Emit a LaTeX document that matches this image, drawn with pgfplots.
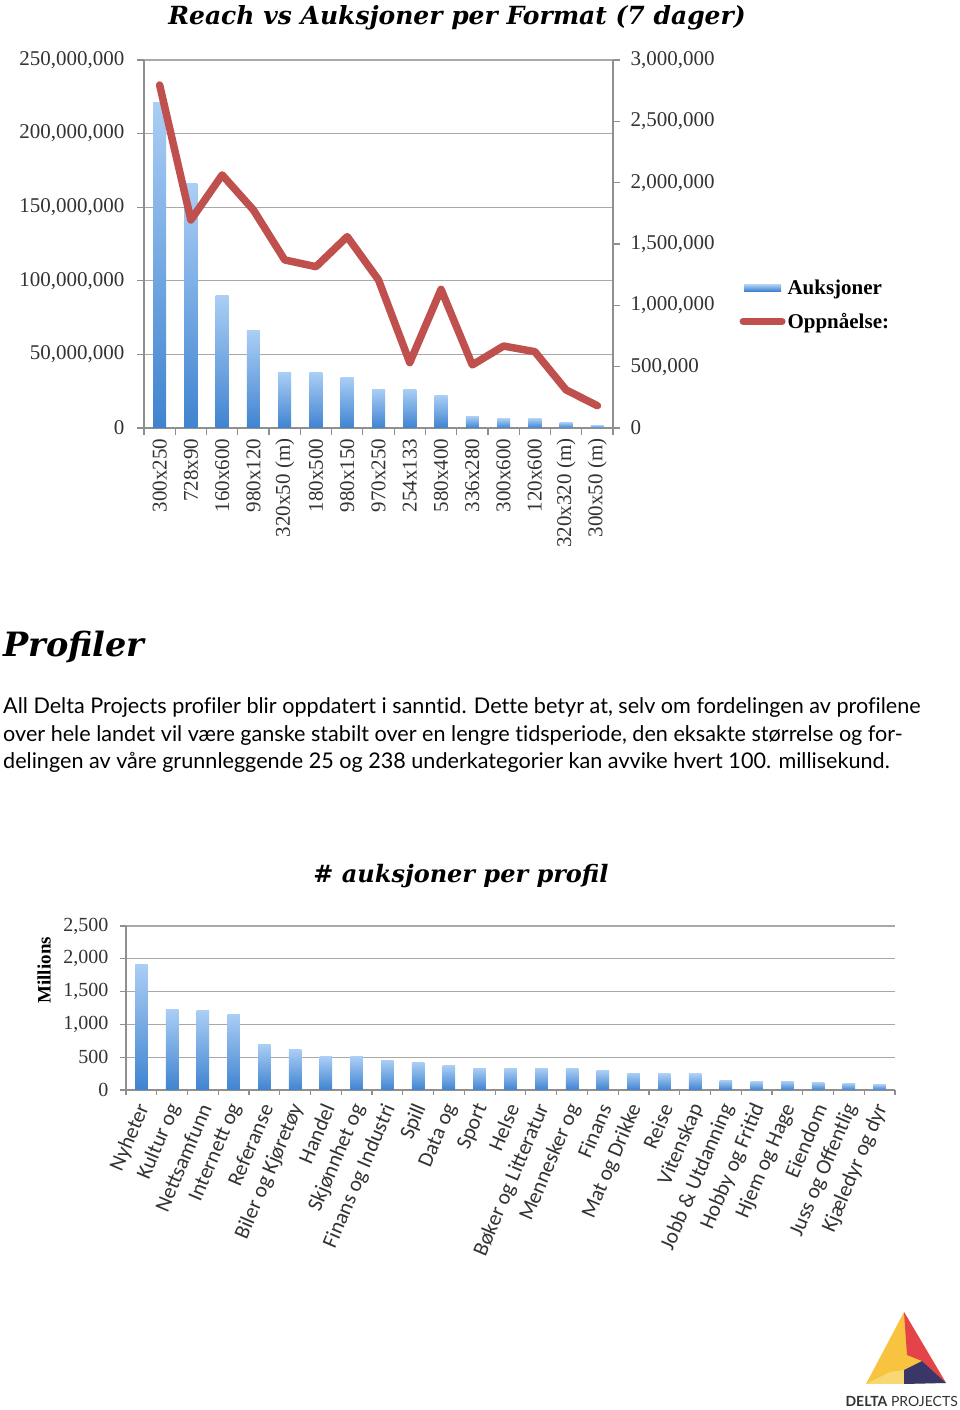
\documentclass[border=0pt]{standalone}
\usepackage{fontspec}
\setmainfont{Liberation Serif}
\newfontfamily\titlefont{DejaVu Serif}
\newfontfamily\catfont{Carlito}
\newfontfamily\parafont[Ligatures=NoCommon]{Lato}
\usepackage{pgfplots}
\pgfplotsset{compat=1.18}
\definecolor{barTop}{HTML}{AACEF5}
\definecolor{barBot}{HTML}{3F83D0}
\definecolor{lineRed}{HTML}{C0504D}
\definecolor{gridgray}{HTML}{A8A8A8}
\definecolor{axisgray}{HTML}{8F8F8F}
\definecolor{labgray}{HTML}{333333}
\definecolor{logoYel}{HTML}{F8C440}
\definecolor{logoLYel}{HTML}{F8D774}
\definecolor{logoRed}{HTML}{E4434A}
\definecolor{logoNavy}{HTML}{3B3668}
\newcommand{\fs}[2]{\fontsize{#1}{#2}\selectfont}
\pgfplotsset{
  commonstyle/.style={
    scale only axis,
    axis line style={axisgray, line width=1.2pt},
    tick align=outside,
    major tick length=7pt, minor tick length=7pt,
    tick style={axisgray, line width=1.2pt},
    grid style={gridgray, line width=1.2pt},
    scaled y ticks=false,
    yticklabel style={/pgf/number format/fixed, /pgf/number format/precision=0,
      /pgf/number format/1000 sep={,}, /pgf/number format/assume math mode=true, text=labgray},
  },
  barA/.style={ybar, bar width=13pt, draw=none, top color=barTop, bottom color=barBot, forget plot},
  barB/.style={ybar, bar width=12.5pt, draw=none, top color=barTop, bottom color=barBot, forget plot},
}
\begin{document}
\begin{tikzpicture}[x=1pt,y=1pt]
\path[use as bounding box, fill=white] (0,0) rectangle (960,1410);

% ---------- Chart 1 title
\node[anchor=base, inner sep=0, font=\titlefont\bfseries\itshape\fs{25}{30}] at (457,1385) {Reach vs Auksjoner per Format (7 dager)};

% ---------- Chart 1, left axis (bars)
\begin{axis}[commonstyle,
  at={(144pt,982pt)}, anchor=south west, width=469pt, height=368pt,
  xmin=-0.5, xmax=14.5, ymin=0, ymax=250000000,
  axis x line*=bottom, axis y line*=left,
  ytick={0,50000000,100000000,150000000,200000000,250000000},
  ymajorgrids,
  yticklabel style={font=\fs{21}{24}, xshift=-9pt},
  xtick={0,...,14},
  xticklabels={300x250,728x90,160x600,980x120,320x50 (m),180x500,980x150,970x250,254x133,580x400,336x280,300x600,120x600,320x320 (m),300x50 (m)},
  xticklabel style={rotate=90, anchor=east, font=\fs{21}{24}, text=labgray},
  major x tick style={draw=none},
  minor xtick={-0.5,0.5,...,14.5},
]
\addplot[barA] coordinates {(0,221000000)};
\addplot[barA] coordinates {(1,166000000)};
\addplot[barA] coordinates {(2,90000000)};
\addplot[barA] coordinates {(3,66000000)};
\addplot[barA] coordinates {(4,37800000)};
\addplot[barA] coordinates {(5,37800000)};
\addplot[barA] coordinates {(6,34400000)};
\addplot[barA] coordinates {(7,26300000)};
\addplot[barA] coordinates {(8,26300000)};
\addplot[barA] coordinates {(9,22000000)};
\addplot[barA] coordinates {(10,7900000)};
\addplot[barA] coordinates {(11,6300000)};
\addplot[barA] coordinates {(12,6300000)};
\addplot[barA] coordinates {(13,3900000)};
\addplot[barA] coordinates {(14,2000000)};
\end{axis}

% ---------- Chart 1, right axis (line)
\begin{axis}[commonstyle,
  at={(144pt,982pt)}, anchor=south west, width=469pt, height=368pt,
  xmin=-0.5, xmax=14.5, ymin=0, ymax=3000000,
  axis y line*=right, axis x line=none, xtick=\empty,
  ytick={0,500000,1000000,1500000,2000000,2500000,3000000},
  yticklabel style={font=\fs{21}{24}, xshift=7pt},
  legend style={at={(1.263,0.335)}, anchor=west, draw=none, fill=none,
    font=\bfseries\fs{21}{24}, row sep=13pt},
  legend cell align=left,
]
\addlegendimage{legend image code/.code={\shade[draw=none, top color=barTop,bottom color=barBot] (1pt,-3.2pt) rectangle (38pt,3.2pt);}}
\addlegendentry{Auksjoner}
\addplot[lineRed, line width=7.5pt, line cap=round, line join=round,
  legend image code/.code={\draw[lineRed,line width=7pt,line cap=round] (0pt,0pt) -- (39pt,0pt);}] coordinates {
(0,2796000) (1,1696000) (2,2063000) (3,1777000) (4,1370000)
(5,1315000) (6,1560000) (7,1207000) (8,533000) (9,1130000)
(10,514000) (11,668000) (12,622000) (13,310000) (14,182000)};
\addlegendentry{Oppnåelse:}
\end{axis}

% ---------- Heading and paragraph
\node[anchor=base west, inner sep=0, font=\titlefont\bfseries\itshape\fs{33.5}{40}] at (3,753) {Profiler};
\begin{scope}[every node/.style={anchor=base west, inner sep=0, font=\parafont\fs{21.6}{28}}]
\node at (3,696) {All Delta Projects profiler blir oppdatert i sanntid. Dette betyr at, selv om fordelingen av profilene};
\node at (3,668.3) {over hele landet vil være ganske stabilt over en lengre tidsperiode, den eksakte størrelse og for-};
\node at (3,641) {delingen av våre grunnleggende 25 og 238 underkategorier kan avvike hvert 100. millisekund.};
\end{scope}

% ---------- Chart 2 title
\node[anchor=base, inner sep=0, font=\titlefont\bfseries\itshape\fs{24}{30}] at (461,527) {\# auksjoner per profil};

% ---------- Chart 2
\begin{axis}[commonstyle,
  at={(126pt,320pt)}, anchor=south west, width=769pt, height=164pt,
  xmin=-0.5, xmax=24.5, ymin=0, ymax=2500,
  axis x line*=bottom, axis y line*=left,
  ytick={0,500,1000,1500,2000,2500},
  ymajorgrids,
  major tick length=6pt, minor tick length=5pt,
  yticklabel style={font=\fs{20}{22}, xshift=-8pt},
  xtick={0,...,24},
  xticklabels={Nyheter,Kultur og,Nettsamfunn,Internett og,Referanse,Biler og Kjøretøy,Handel,Skjønnhet og,Finans og Industri,Spill,Data og,Sport,Helse,Bøker og Litteratur,Mennesker og,Finans,Mat og Drikke,Reise,Vitenskap,Jobb \& Utdanning,Hobby og Fritid,Hjem og Hage,Eiendom,Juss og Offentlig,Kjæledyr og dyr},
  xticklabel style={xshift=4pt, yshift=-6pt, rotate=67, anchor=east, font=\catfont\fs{21.5}{24}, text=labgray},
  major x tick style={draw=none},
  minor xtick={-0.5,0.5,...,24.5},
  ylabel={Millions},
  ylabel style={at={(axis description cs:-0.1066,0.73)}, anchor=center, font=\bfseries\fs{19}{22}},
]
\addplot[barB] coordinates {(0,1916)};
\addplot[barB] coordinates {(1,1230)};
\addplot[barB] coordinates {(2,1209)};
\addplot[barB] coordinates {(3,1158)};
\addplot[barB] coordinates {(4,696)};
\addplot[barB] coordinates {(5,620)};
\addplot[barB] coordinates {(6,508)};
\addplot[barB] coordinates {(7,505)};
\addplot[barB] coordinates {(8,457)};
\addplot[barB] coordinates {(9,422)};
\addplot[barB] coordinates {(10,371)};
\addplot[barB] coordinates {(11,330)};
\addplot[barB] coordinates {(12,330)};
\addplot[barB] coordinates {(13,330)};
\addplot[barB] coordinates {(14,330)};
\addplot[barB] coordinates {(15,295)};
\addplot[barB] coordinates {(16,259)};
\addplot[barB] coordinates {(17,244)};
\addplot[barB] coordinates {(18,244)};
\addplot[barB] coordinates {(19,152)};
\addplot[barB] coordinates {(20,132)};
\addplot[barB] coordinates {(21,135)};
\addplot[barB] coordinates {(22,117)};
\addplot[barB] coordinates {(23,102)};
\addplot[barB] coordinates {(24,86)};
\end{axis}

% ---------- Logo
\fill[logoYel] (904,98) -- (866,26) -- (946,27) -- cycle;
\fill[logoLYel] (866,26) -- (890,38) -- (904,40) -- (904,26) -- cycle;
\fill[logoRed] (904,98) -- (946,27) -- (922,49) -- (907,55) -- cycle;
\fill[logoNavy] (904,40) -- (922,49) -- (946,27) -- (904,26) -- cycle;
\node[anchor=base east, inner sep=0, font=\parafont\fs{14}{17}, text=labgray] at (958,3) {\textbf{DELTA} PROJECTS};
\end{tikzpicture}
\end{document}
